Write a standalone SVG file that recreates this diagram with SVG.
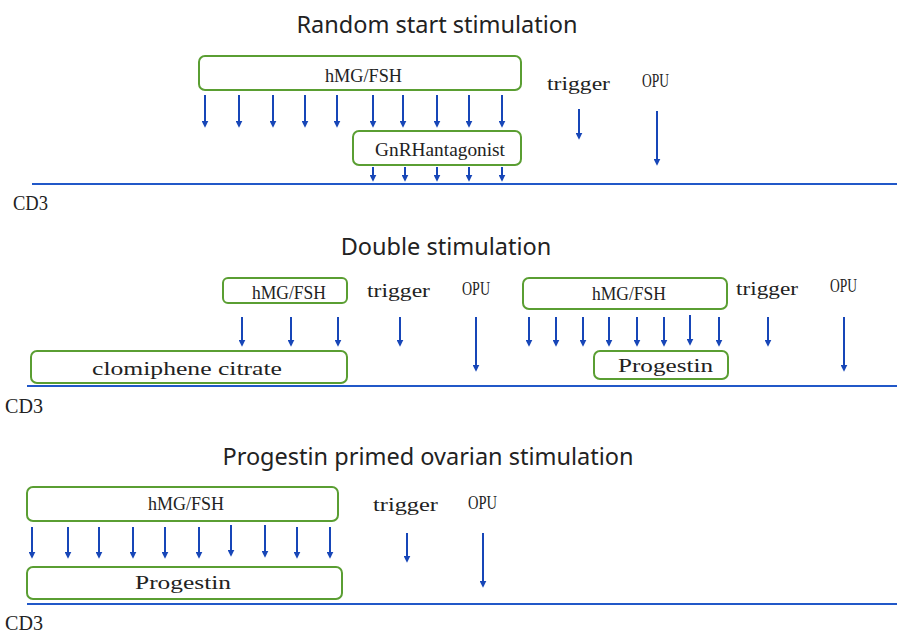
<svg xmlns="http://www.w3.org/2000/svg" width="897" height="634" viewBox="0 0 897 634">
<style>
.title{font-family:"Noto Sans","Liberation Sans",sans-serif;font-size:23.5px;fill:#222;text-anchor:middle}
.lbl{font-family:"Liberation Serif","DejaVu Serif",serif;font-size:19px;fill:#222}
.cd{font-family:"Liberation Serif","DejaVu Serif",serif;font-size:21px;fill:#222}
.box{fill:#fff;stroke:#5a9e32;stroke-width:2}
.arr{stroke:#1746b8;stroke-width:2;fill:none;marker-end:url(#ah)}
.axis{stroke:#2158c8;stroke-width:2}
</style>
<defs>
<marker id="ah" viewBox="0 0 8 8" refX="5" refY="4" markerWidth="7" markerHeight="7" markerUnits="userSpaceOnUse" orient="auto">
<path d="M0,0 L8,4 L0,8 z" fill="#1746b8"/>
</marker>
</defs>
<rect width="897" height="634" fill="#fff"/>

<!-- Section 1 -->
<g id="title1"><text class="title" x="437" y="33">Random start stimulation</text></g>
<g id="hmg1"><rect class="box" x="199" y="56" width="322" height="34" rx="6"/><text class="lbl" x="325" y="82" textLength="77" lengthAdjust="spacingAndGlyphs">hMG/FSH</text></g>
<g id="gnrh1"><rect class="box" x="353" y="131" width="168" height="34" rx="6"/><text class="lbl" x="375" y="156" textLength="130" lengthAdjust="spacingAndGlyphs">GnRHantagonist</text></g>
<g id="trigger1"><text class="lbl" x="547" y="90" textLength="63" lengthAdjust="spacingAndGlyphs">trigger</text></g>
<g id="opu1"><text class="lbl" x="642" y="87" textLength="27" lengthAdjust="spacingAndGlyphs">OPU</text></g>
<g id="cd3a"><text class="cd" x="13" y="210" textLength="35" lengthAdjust="spacingAndGlyphs">CD3</text></g>

<!-- Section 2 -->
<g id="title2"><text class="title" x="446" y="255">Double stimulation</text></g>
<g id="hmg2a"><rect class="box" x="223" y="278" width="124" height="25" rx="5"/><text class="lbl" x="252" y="299" textLength="74" lengthAdjust="spacingAndGlyphs">hMG/FSH</text></g>
<g id="clomiphene"><rect class="box" x="31" y="351" width="316" height="32" rx="6"/><text class="lbl" x="92" y="375" textLength="190" lengthAdjust="spacingAndGlyphs">clomiphene citrate</text></g>
<g id="trigger2a"><text class="lbl" x="367" y="297" textLength="63" lengthAdjust="spacingAndGlyphs">trigger</text></g>
<g id="opu2a"><text class="lbl" x="462" y="295" textLength="28" lengthAdjust="spacingAndGlyphs">OPU</text></g>
<g id="hmg2b"><rect class="box" x="523" y="278" width="204" height="31" rx="6"/><text class="lbl" x="592" y="300" textLength="74" lengthAdjust="spacingAndGlyphs">hMG/FSH</text></g>
<g id="progestin2"><rect class="box" x="594" y="351" width="134" height="28" rx="6"/><text class="lbl" x="618" y="372" textLength="95" lengthAdjust="spacingAndGlyphs">Progestin</text></g>
<g id="trigger2b"><text class="lbl" x="736" y="295" textLength="62" lengthAdjust="spacingAndGlyphs">trigger</text></g>
<g id="opu2b"><text class="lbl" x="830" y="292" textLength="27" lengthAdjust="spacingAndGlyphs">OPU</text></g>
<g id="cd3b"><text class="cd" x="5" y="413" textLength="38" lengthAdjust="spacingAndGlyphs">CD3</text></g>

<!-- Section 3 -->
<g id="title3"><text class="title" x="428" y="465">Progestin primed ovarian stimulation</text></g>
<g id="hmg3"><rect class="box" x="27" y="487" width="311" height="34" rx="6"/><text class="lbl" x="148" y="510" textLength="76" lengthAdjust="spacingAndGlyphs">hMG/FSH</text></g>
<g id="progestin3"><rect class="box" x="27" y="567" width="315" height="32" rx="6"/><text class="lbl" x="135" y="589" textLength="96" lengthAdjust="spacingAndGlyphs">Progestin</text></g>
<g id="trigger3"><text class="lbl" x="373" y="511" textLength="65" lengthAdjust="spacingAndGlyphs">trigger</text></g>
<g id="opu3"><text class="lbl" x="468" y="509" textLength="29" lengthAdjust="spacingAndGlyphs">OPU</text></g>
<g id="cd3c"><text class="cd" x="5" y="630" textLength="38" lengthAdjust="spacingAndGlyphs">CD3</text></g>

<g id="connectors">
<line class="axis" x1="32" y1="184" x2="897" y2="184"/>
<line class="axis" x1="27" y1="386" x2="897" y2="386"/>
<line class="axis" x1="27" y1="604" x2="897" y2="604"/>

<line class="arr" x1="205" y1="95" x2="205" y2="125"/>
<line class="arr" x1="239" y1="95" x2="239" y2="125"/>
<line class="arr" x1="273" y1="95" x2="273" y2="125"/>
<line class="arr" x1="305" y1="95" x2="305" y2="125"/>
<line class="arr" x1="337" y1="95" x2="337" y2="125"/>
<line class="arr" x1="373" y1="95" x2="373" y2="125"/>
<line class="arr" x1="403" y1="95" x2="403" y2="125"/>
<line class="arr" x1="437" y1="95" x2="437" y2="125"/>
<line class="arr" x1="469" y1="95" x2="469" y2="125"/>
<line class="arr" x1="502" y1="95" x2="502" y2="125"/>
<line class="arr" x1="373" y1="167" x2="373" y2="179"/>
<line class="arr" x1="405" y1="167" x2="405" y2="179"/>
<line class="arr" x1="437" y1="167" x2="437" y2="179"/>
<line class="arr" x1="469" y1="167" x2="469" y2="179"/>
<line class="arr" x1="502" y1="167" x2="502" y2="179"/>
<line class="arr" x1="579" y1="109" x2="579" y2="137"/>
<line class="arr" x1="657" y1="111" x2="657" y2="163"/>

<line class="arr" x1="242" y1="317" x2="242" y2="344"/>
<line class="arr" x1="291" y1="317" x2="291" y2="344"/>
<line class="arr" x1="338" y1="317" x2="338" y2="344"/>
<line class="arr" x1="400" y1="317" x2="400" y2="344"/>
<line class="arr" x1="476" y1="317" x2="476" y2="369"/>
<line class="arr" x1="529" y1="317" x2="529" y2="344"/>
<line class="arr" x1="556" y1="317" x2="556" y2="344"/>
<line class="arr" x1="583" y1="317" x2="583" y2="344"/>
<line class="arr" x1="609" y1="317" x2="609" y2="344"/>
<line class="arr" x1="637" y1="317" x2="637" y2="344"/>
<line class="arr" x1="664" y1="317" x2="664" y2="344"/>
<line class="arr" x1="690" y1="315" x2="690" y2="343"/>
<line class="arr" x1="719" y1="317" x2="719" y2="344"/>
<line class="arr" x1="768" y1="317" x2="768" y2="344"/>
<line class="arr" x1="844" y1="317" x2="844" y2="369"/>

<line class="arr" x1="32" y1="527" x2="32" y2="556"/>
<line class="arr" x1="68" y1="527" x2="68" y2="556"/>
<line class="arr" x1="99" y1="527" x2="99" y2="556"/>
<line class="arr" x1="133" y1="527" x2="133" y2="556"/>
<line class="arr" x1="165" y1="527" x2="165" y2="556"/>
<line class="arr" x1="199" y1="527" x2="199" y2="556"/>
<line class="arr" x1="231" y1="525" x2="231" y2="554"/>
<line class="arr" x1="265" y1="525" x2="265" y2="555"/>
<line class="arr" x1="297" y1="527" x2="297" y2="556"/>
<line class="arr" x1="330" y1="527" x2="330" y2="556"/>
<line class="arr" x1="407" y1="533" x2="407" y2="560"/>
<line class="arr" x1="483" y1="533" x2="483" y2="585"/>
</g>
</svg>
